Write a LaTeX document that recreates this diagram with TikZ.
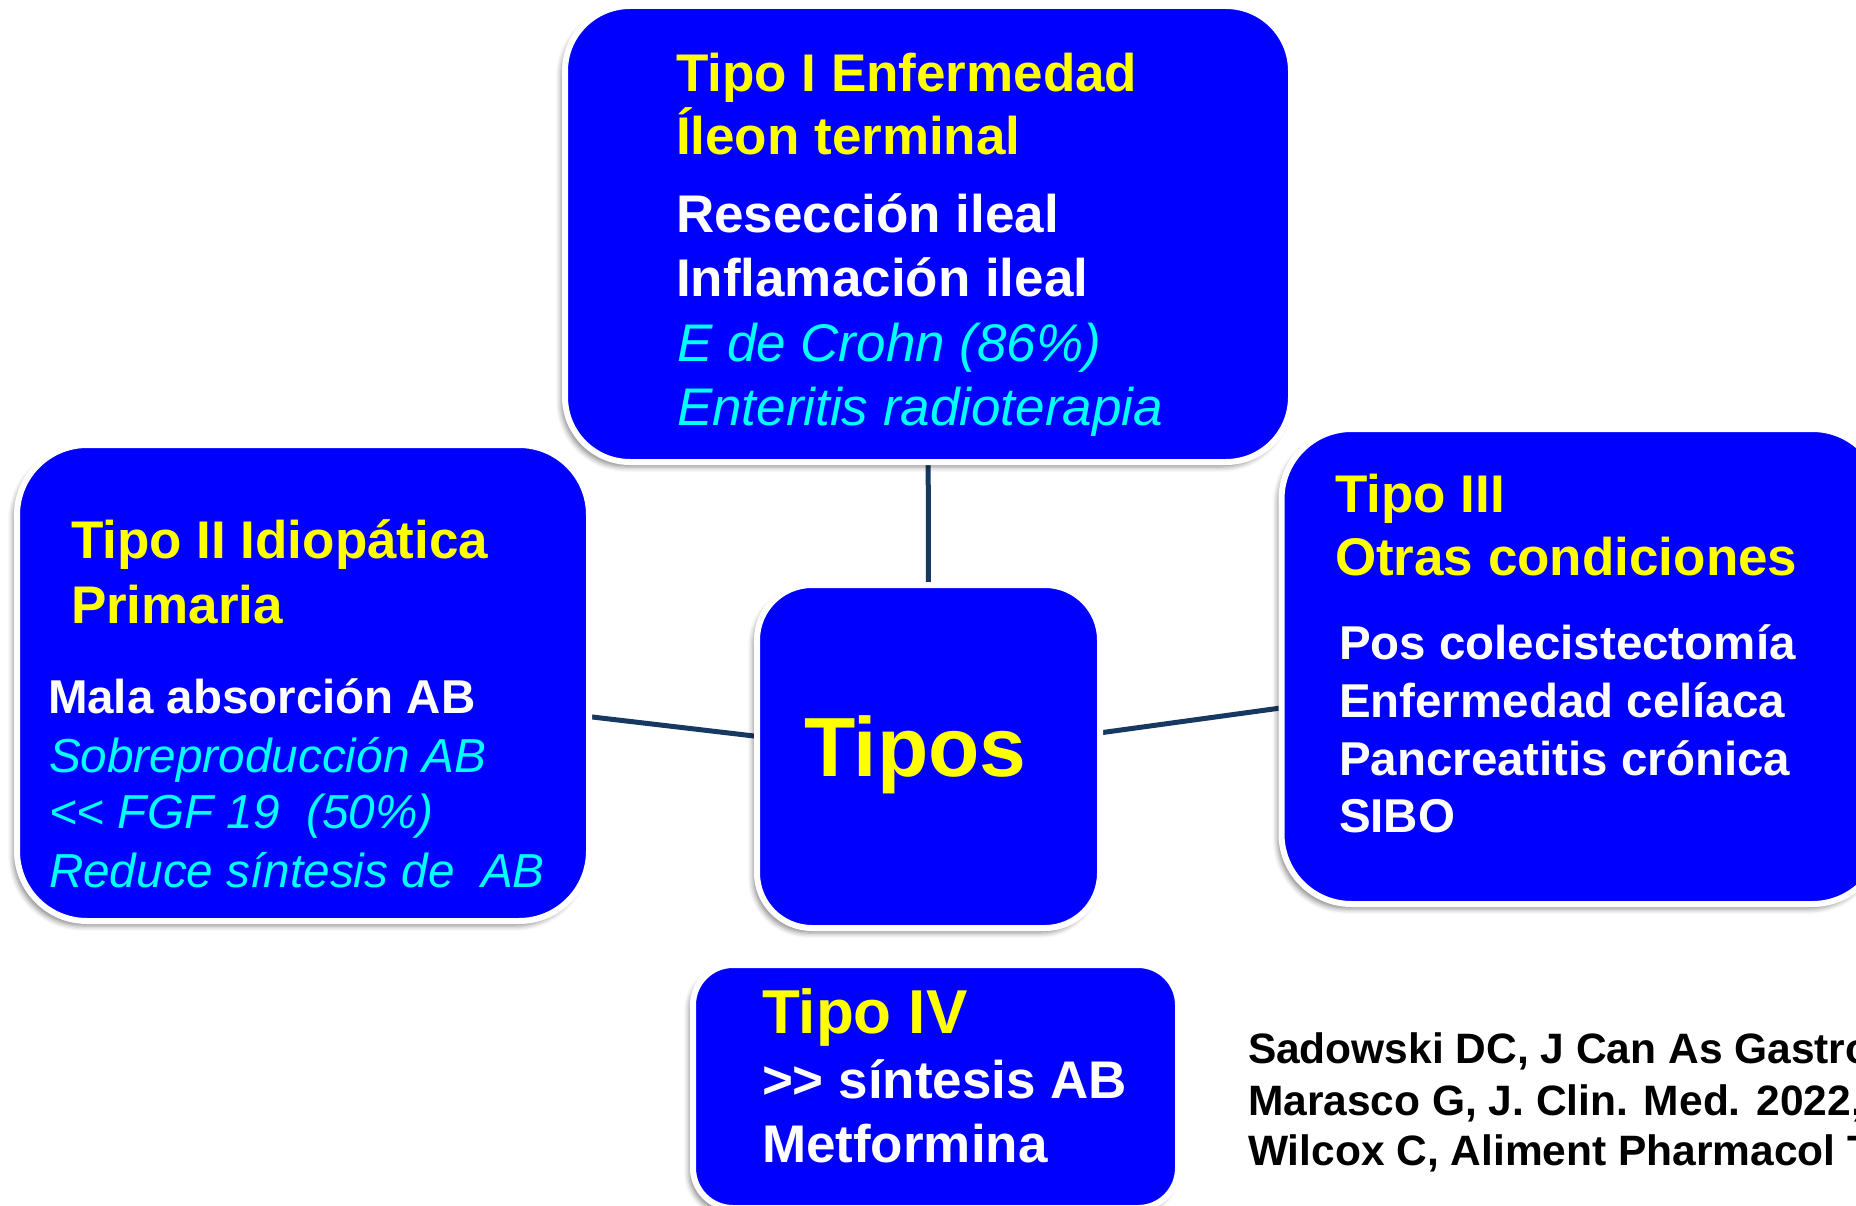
\documentclass[tikz,border=0pt]{standalone}
\usepackage{fontspec}
\setmainfont{Liberation Sans}
\usetikzlibrary{shadows.blur,backgrounds}
\definecolor{bxblue}{RGB}{0,0,255}
\definecolor{ylw}{RGB}{255,255,0}
\definecolor{cyn}{RGB}{0,255,255}
\definecolor{navy}{RGB}{23,56,96}
\begin{document}
\begin{tikzpicture}[x=1pt,y=-1pt,
  box/.style={rectangle, draw=white, line width=6pt, fill=bxblue, inner sep=0pt, outer sep=0pt,
    blur shadow={shadow xshift=-4pt, shadow yshift=-5pt, shadow blur radius=5pt, shadow opacity=45}},
  conn/.style={draw=navy, line width=5pt},
  txt/.style={anchor=base west, inner sep=0pt, outer sep=0pt},
  yl/.style={txt, text=ylw, font=\fontsize{53}{60}\selectfont\bfseries},
  wl/.style={txt, text=white, font=\fontsize{53}{60}\selectfont\bfseries},
  cl/.style={txt, text=cyn, font=\fontsize{53}{60}\selectfont\itshape},
  ws/.style={txt, text=white, font=\fontsize{47.5}{55}\selectfont\bfseries},
  cs/.style={txt, text=cyn, font=\fontsize{47.7}{55}\selectfont\itshape},
  refs/.style={txt, text=black, font=\fontsize{42.5}{50}\selectfont\bfseries}
]
\useasboundingbox (0,0) rectangle (1856,1206);
\clip (0,0) rectangle (1856,1206);

% boxes
\node[box, rounded corners=65pt, minimum width=726pt, minimum height=456pt] (top) at (928,234) {};
\node[box, rounded corners=70pt, minimum width=572pt, minimum height=476pt] (left) at (303,683) {};
\node[box, rounded corners=70pt, minimum width=601pt, minimum height=475pt] (right) at (1582,666.5) {};
\node[box, rounded corners=55pt, minimum width=343pt, minimum height=343pt] (tipos) at (928.5,756.5) {};
\node[box, rounded corners=40pt, minimum width=485pt, minimum height=243pt] (iv) at (935.5,1086.5) {};

% connectors
\begin{scope}[on background layer]
\draw[conn] (tipos.center) -- (top.center);
\draw[conn] (tipos.center) -- (left.center);
\draw[conn] (tipos.center) -- (right.center);
\end{scope}

% Tipo I
\node[yl] (t1a) at (676,92) {Tipo I Enfermedad};
\node[yl] (t1b) at (676,155) {Íleon terminal};
\node[wl] (t1c) at (676,233) {Resección ileal};
\node[wl] (t1d) at (676,297) {Inflamación ileal};
\node[cl] (t1e) at (677,362) {E de Crohn (86\%)};
\node[cl] (t1f) at (677,425) {Enteritis radioterapia};

% Tipo II
\node[yl] (t2a) at (71,558) {Tipo II Idiopática};
\node[yl] (t2b) at (71,623) {Primaria};
\node[ws] (t2c) at (48,713) {Mala absorción AB};
\node[cs] (t2d) at (49,772) {Sobreproducción AB};
\node[cs] (t2e) at (49,828) {<{}< FGF 19\ \ (50\%)};
\node[cs] (t2f) at (49,887) {Reduce síntesis de\ \ AB};

% Tipo III
\node[yl] (t3a) at (1335,512) {Tipo III};
\node[yl] (t3b) at (1335,575) {Otras condiciones};
\node[ws] (t3c) at (1339,659) {Pos colecistectomía};
\node[ws] (t3d) at (1339,717) {Enfermedad celíaca};
\node[ws] (t3e) at (1339,775) {Pancreatitis crónica};
\node[ws] (t3f) at (1339,832) {SIBO};

% Tipos
\node[txt, text=ylw, font=\fontsize{84}{90}\selectfont\bfseries] (tt) at (804,776) {Tipos};

% Tipo IV
\node[txt, text=ylw, font=\fontsize{62}{70}\selectfont\bfseries] (t4a) at (762,1033) {Tipo IV};
\node[wl] (t4b) at (762,1098) {>{}> síntesis AB};
\node[wl] (t4c) at (762,1162) {Metformina};

% references
\node[refs] (r1) at (1248,1063) {Sadowski DC, J Can As Gastro};
\node[refs] (r2) at (1248,1115) {Marasco G, J. Clin. Med. 2022,};
\node[refs] (r3) at (1248,1165) {Wilcox C, Aliment Pharmacol T};
\end{tikzpicture}
\end{document}
